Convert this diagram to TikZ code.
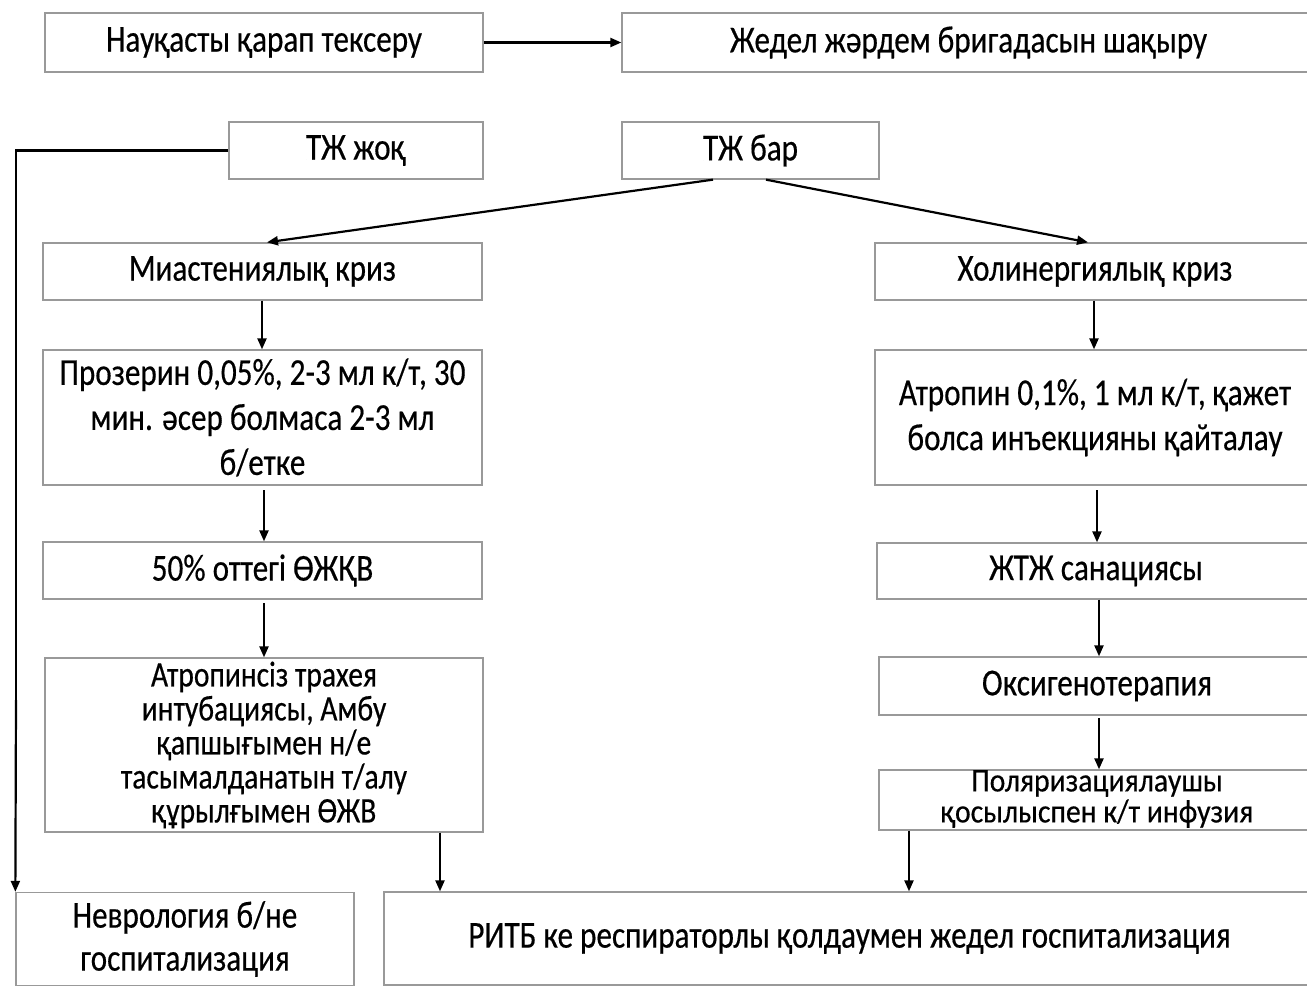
\documentclass[tikz,border=0pt]{standalone}
\usepackage{fontspec}
\setmainfont{Carlito}[FakeStretch=0.82,FakeBold=0.4]
\newfontfamily\widerfont{Carlito}[FakeStretch=0.9,FakeBold=0.4]
\usetikzlibrary{arrows.meta}
\tikzset{
  box/.style={draw=black!40, line width=1.3pt, inner sep=0pt, align=center, font=\fontsize{38}{45}\selectfont},
  txt/.style={inner sep=0pt, align=center},
  arr/.style={line width=2.2pt, -{Triangle[length=11pt,width=9pt]}},
  ln/.style={line width=2.4pt}
}
\newcommand{\boxat}[6]{% name, x1, y1, x2, y2, text
  \node[box, minimum width={#4-#2}, minimum height={#5-#3}] (#1) at ({(#2+#4)/2},{(#3+#5)/2}) {#6};}
\begin{document}
\begin{tikzpicture}[x=1pt,y=-1pt]
\useasboundingbox (0,0) rectangle (1307,987);
\fill[white] (0,0) rectangle (1307,987);
\boxat{exam}{45}{13}{483}{72}{Науқасты қарап тексеру}
\boxat{call}{622}{13}{1315}{72}{Жедел жәрдем бригадасын шақыру}
\boxat{zhok}{229}{122}{483}{179}{ТЖ жоқ}
\boxat{bar}{622}{122}{879}{179}{ТЖ бар}
\boxat{mia}{43}{243}{482}{300}{Миастениялық криз}
\boxat{hol}{875}{243}{1315}{300}{Холинергиялық криз}
\boxat{proz}{43}{350}{482}{485}{Прозерин 0,05\%, 2-3 мл к/т, 30\\мин. әсер болмаса 2-3 мл\\б/етке}
\boxat{atr}{875}{350}{1315}{485}{Атропин 0,1\%, 1 мл к/т, қажет\\болса инъекцияны қайталау}
\boxat{oxy50}{43}{542}{482}{599}{50\% оттегі ӨЖҚВ}
\boxat{san}{877}{543}{1315}{599}{ЖТЖ санациясы}
\node[box, minimum width=438, minimum height=174, font=\fontsize{36}{34}\selectfont] (intub) at (264,745) {Атропинсіз трахея\\интубациясы, Амбу\\қапшығымен н/е\\тасымалданатын т/алу\\құрылғымен ӨЖВ};
\boxat{oxyt}{879}{657}{1315}{715}{Оксигенотерапия}
\node[box, minimum width=436, minimum height=60] (pol) at (1097,800) {};
\node[txt, font=\widerfont\fontsize{33}{31}\selectfont] (polt) at (1097,799) {Поляризациялаушы\\қосылыспен к/т инфузия};
\node[box, minimum width=338, minimum height=93, font=\fontsize{38}{43}\selectfont] (nevr) at (185,939) {Неврология б/не\\госпитализация};
\boxat{ritb}{384}{892}{1315}{985}{РИТБ ке респираторлы қолдаумен жедел госпитализация}

\draw[arr] (exam.east) -- (call.west);
\draw[ln] (zhok.west) -| (16,700);
\draw[arr] (16,700) -- (nevr.north west);
\draw[arr] (713,0 |- bar.south) -- (267,0 |- mia.north);
\draw[arr] (766,0 |- bar.south) -- (1088,0 |- hol.north);
\draw[arr] (262,0 |- mia.south) -- (262,0 |- proz.north);
\draw[arr] (264,490) -- (264,0 |- oxy50.north);
\draw[arr] (264,603) -- (264,0 |- intub.north);
\draw[arr] (1094,0 |- hol.south) -- (1094,0 |- atr.north);
\draw[arr] (1097,490) -- (1097,0 |- san.north);
\draw[arr] (1099,0 |- san.south) -- (1099,0 |- oxyt.north);
\draw[arr] (1099,718) -- (1099,0 |- pol.north);
\draw[arr] (440,0 |- intub.south) -- (440,0 |- ritb.north);
\draw[arr] (909,0 |- pol.south) -- (909,0 |- ritb.north);
\end{tikzpicture}
\end{document}
